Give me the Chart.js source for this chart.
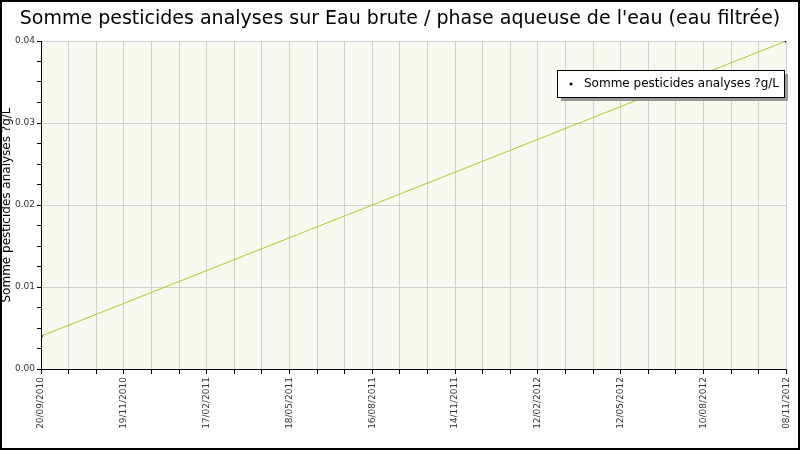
<!DOCTYPE html>
<html lang="fr">
<head>
<meta charset="UTF-8">
<title>Somme pesticides</title>
<script src="https://cdn.jsdelivr.net/npm/chart.js"></script>
<style>
  body { margin: 0; background: #fff; }
</style>
</head>
<body>
<canvas id="c" width="800" height="450"></canvas>
<script>
const tickLabels = ['20/09/2010', '19/11/2010', '17/02/2011', '18/05/2011', '16/08/2011',
  '14/11/2011', '12/02/2012', '12/05/2012', '10/08/2012', '08/11/2012'];
const positions = [0, 27];          // in grid steps (3 steps per labelled date)
const values = [0.004, 0.04];
const seriesName = 'Somme pesticides analyses ?g/L';
const titleText = "Somme pesticides analyses sur Eau brute / phase aqueuse de l'eau (eau filtrée)";

const frame = {
  id: 'frame',
  beforeDraw(chart) {
    const { ctx, chartArea: a } = chart;
    ctx.save();
    ctx.fillStyle = '#f8f9f0';
    ctx.fillRect(a.left, a.top, a.right - a.left, a.bottom - a.top);
    ctx.restore();
  },
  afterDraw(chart) {
    const { ctx, chartArea: a } = chart;
    ctx.save();
    ctx.strokeStyle = '#000';
    ctx.lineWidth = 2;
    ctx.strokeRect(1, 1, 798, 448);
    ctx.lineWidth = 1;
    ctx.beginPath();
    ctx.moveTo(a.left + 0.5, a.top); ctx.lineTo(a.left + 0.5, a.bottom + 0.5);
    ctx.lineTo(a.right, a.bottom + 0.5);
    ctx.stroke();
    ctx.fillStyle = '#000';
    ctx.font = '19px "DejaVu Sans"';
    ctx.textAlign = 'center';
    ctx.textBaseline = 'middle';
    ctx.fillText(titleText, 400, 19);
    // legend box
    const bx = 557, by = 70, bw = 227, bh = 27;
    ctx.fillStyle = '#999';
    ctx.fillRect(bx + 4, by + 4, bw, bh);
    ctx.fillStyle = '#fff';
    ctx.fillRect(bx, by, bw, bh);
    ctx.strokeStyle = '#000';
    ctx.strokeRect(bx + 0.5, by + 0.5, bw, bh);
    ctx.fillStyle = '#000';
    ctx.beginPath(); ctx.arc(bx + 14, by + 14, 1.5, 0, Math.PI * 2); ctx.fill();
    ctx.font = '12px "DejaVu Sans"';
    ctx.textAlign = 'left';
    ctx.fillText(seriesName, bx + 27, by + 14);
    ctx.restore();
  }
};

new Chart(document.getElementById('c'), {
  type: 'line',
  data: {
    datasets: [{
      label: seriesName,
      data: positions.map((x, i) => ({ x, y: values[i] })),
      borderColor: '#a8d020',
      borderWidth: 1,
      pointRadius: 1.5,
      pointBackgroundColor: '#000',
      pointBorderWidth: 0,
      tension: 0
    }]
  },
  options: {
    responsive: false,
    animation: false,
    layout: { padding: { top: 41, right: 11, left: 0, bottom: 0 } },
    plugins: { legend: { display: false }, title: { display: false }, tooltip: { enabled: false } },
    scales: {
      x: {
        type: 'linear', min: 0, max: 27,
        afterBuildTicks: s => { s.ticks = Array.from({ length: 28 }, (_, i) => ({ value: i })); },
        afterFit: s => { s.height = 81; },
        border: { display: false },
        grid: { color: '#d0d0d0', tickColor: '#000', tickLength: 5 },
        ticks: {
          autoSkip: false, maxRotation: 90, minRotation: 90,
          color: '#333', font: { size: 9, family: 'DejaVu Sans' },
          callback: v => (v % 3 === 0 ? tickLabels[v / 3] : '')
        }
      },
      y: {
        min: 0, max: 0.04,
        afterBuildTicks: s => { s.ticks = Array.from({ length: 17 }, (_, i) => ({ value: i * 0.0025 })); },
        afterFit: s => { s.width = 41; },
        border: { display: false },
        grid: {
          color: c => (c.index % 4 === 0 ? '#d0d0d0' : 'transparent'),
          tickColor: '#000',
          tickLength: 4
        },
        ticks: {
          autoSkip: false, padding: 2,
          color: '#333', font: { size: 9, family: 'DejaVu Sans' },
          callback: (v, i) => (i % 4 === 0 ? v.toFixed(2) : '')
        },
        title: {
          display: true, text: seriesName, color: '#000',
          font: { size: 12, family: 'DejaVu Sans' }, padding: 0
        }
      }
    }
  },
  plugins: [frame]
});
</script>
</body>
</html>
